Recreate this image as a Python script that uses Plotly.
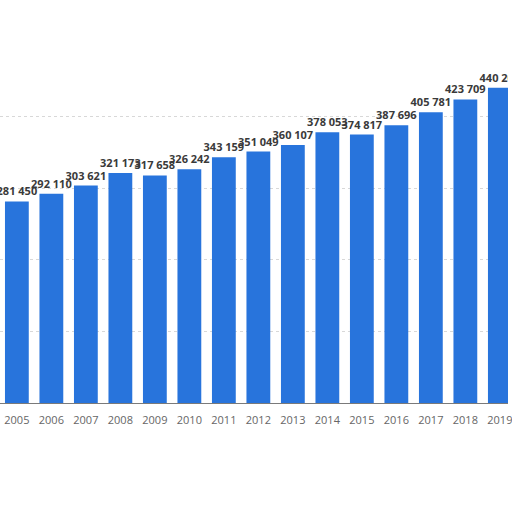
import plotly.graph_objects as go

years = ["2005", "2006", "2007", "2008", "2009", "2010", "2011", "2012",
         "2013", "2014", "2015", "2016", "2017", "2018", "2019"]
values = [281450, 292110, 303621, 321173, 317658, 326242, 343159, 351049,
          360107, 378053, 374817, 387696, 405781, 423709, 440200]
labels = [f"{v:,}".replace(",", " ") for v in values]

fig = go.Figure(go.Bar(
    x=years, y=values, text=labels, textposition="outside",
    constraintext="none", cliponaxis=True,
    marker=dict(color="#2874dc", line=dict(width=0)),
    width=0.69,
    textfont=dict(family="Open Sans", size=11, color="#3a3a3a", weight="bold"),
))

fig.update_layout(
    width=512, height=512,
    margin=dict(l=0, r=0, t=52, b=109),
    plot_bgcolor="white", paper_bgcolor="white",
    showlegend=False,
    xaxis=dict(type="category", range=[-0.489, 14.236],
               showline=True, linecolor="#7a7a7a", linewidth=1,
               ticks="", showgrid=False, ticklabelstandoff=7,
               tickfont=dict(family="Open Sans", size=11, color="#666666")),
    yaxis=dict(range=[0, 490000], dtick=100000, showticklabels=False,
               showgrid=True, gridcolor="#d8d8d8", griddash="dot",
               zeroline=False),
)

fig.write_html("out.html", config={"displayModeBar": False},
               post_script="document.body.style.margin='0';document.body.style.overflow='hidden';")
